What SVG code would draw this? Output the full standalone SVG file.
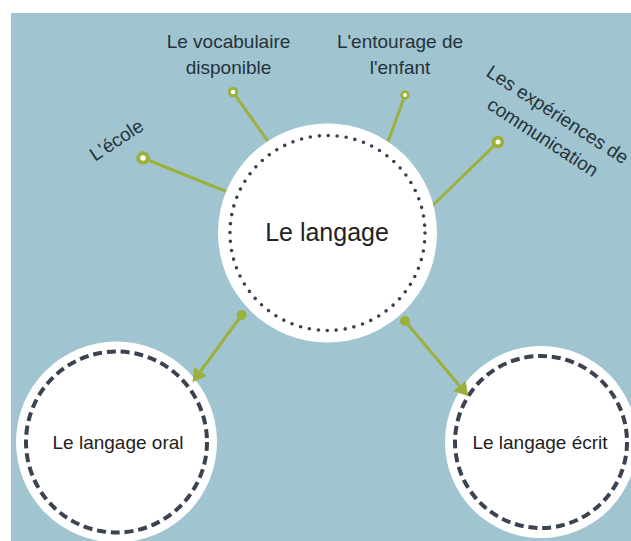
<svg xmlns="http://www.w3.org/2000/svg" width="631" height="541" viewBox="0 0 631 541">
<style>
  .lbl { font-family: "Liberation Sans", Arial, sans-serif; font-size: 19px; fill: #25323a; text-anchor: middle; }
  .main { font-family: "Liberation Sans", Arial, sans-serif; font-size: 25px; fill: #222222; text-anchor: middle; }
  .sub { font-family: "Liberation Sans", Arial, sans-serif; font-size: 19px; fill: #222222; text-anchor: middle; }
  .disc { fill: #ffffff; }
  .dots { fill: none; stroke: #3b4150; stroke-width: 3.6; stroke-linecap: round; stroke-dasharray: 0 9.009; }
  .dash { fill: none; stroke: #3b4350; stroke-width: 4; }
  .conn { stroke: #9cb13c; stroke-width: 3; fill: none; }
  .ring { fill: #ffffff; stroke: #9cb13c; }
  .knob { fill: #9cb13c; }
</style>
<defs>
  <marker id="arrow" markerUnits="userSpaceOnUse" markerWidth="15" markerHeight="18" refX="0" refY="9" orient="auto">
    <path d="M0,1 L13.5,9 L0,17 Z" fill="#9cb13c"/>
  </marker>
</defs>
<rect x="0" y="0" width="631" height="541" fill="#ffffff"/>
<rect x="11" y="13" width="620" height="528" fill="#a0c4d0"/>

<g id="node-oral">
  <circle class="disc" cx="116.5" cy="442" r="100.5"/>
  <circle class="dash" cx="116.5" cy="442" r="90.5" stroke-dasharray="9 4.87"/>
  <text class="sub" x="118" y="449">Le langage oral</text>
</g>

<g id="node-ecrit">
  <circle class="disc" cx="541" cy="442" r="96"/>
  <circle class="dash" cx="541" cy="442" r="86" stroke-dasharray="9 4.85"/>
  <text class="sub" x="540" y="449">Le langage écrit</text>
</g>

<g id="connectors">
  <line class="conn" x1="143" y1="158" x2="235" y2="195"/>
  <line class="conn" x1="233" y1="92" x2="272" y2="147"/>
  <line class="conn" x1="405" y1="95" x2="385" y2="150"/>
  <line class="conn" x1="498" y1="142" x2="428" y2="210"/>
  <circle class="ring" cx="143" cy="158" r="4.8" stroke-width="4"/>
  <circle class="ring" cx="233" cy="92" r="3.8" stroke-width="3"/>
  <circle class="ring" cx="405" cy="95" r="3.3" stroke-width="2.8"/>
  <circle class="ring" cx="498" cy="142" r="4.4" stroke-width="3.8"/>
  <line class="conn" x1="241.7" y1="315" x2="200.5" y2="371.3" marker-end="url(#arrow)"/>
  <circle class="knob" cx="241.7" cy="315" r="5"/>
  <line class="conn" x1="405" y1="321" x2="459.5" y2="385.8" marker-end="url(#arrow)"/>
  <circle class="knob" cx="405" cy="321" r="5"/>
</g>

<g id="node-langage">
  <circle class="disc" cx="327.5" cy="233" r="109.5"/>
  <circle class="dots" cx="327.5" cy="233" r="97.5"/>
  <text class="main" x="327" y="241">Le langage</text>
</g>

<g id="label-ecole">
  <text class="lbl" transform="translate(120,145.5) rotate(-33)">L'école</text>
</g>

<g id="label-vocabulaire">
  <text class="lbl" x="228.5" y="48">Le vocabulaire</text>
  <text class="lbl" x="228.5" y="73.5">disponible</text>
</g>

<g id="label-entourage">
  <text class="lbl" x="400" y="48">L'entourage de</text>
  <text class="lbl" x="400" y="73.5">l'enfant</text>
</g>

<g id="label-experiences" transform="translate(554,120) rotate(33)">
  <text class="lbl" x="0" y="0">Les expériences de</text>
  <text class="lbl" x="0" y="27">communication</text>
</g>
</svg>
